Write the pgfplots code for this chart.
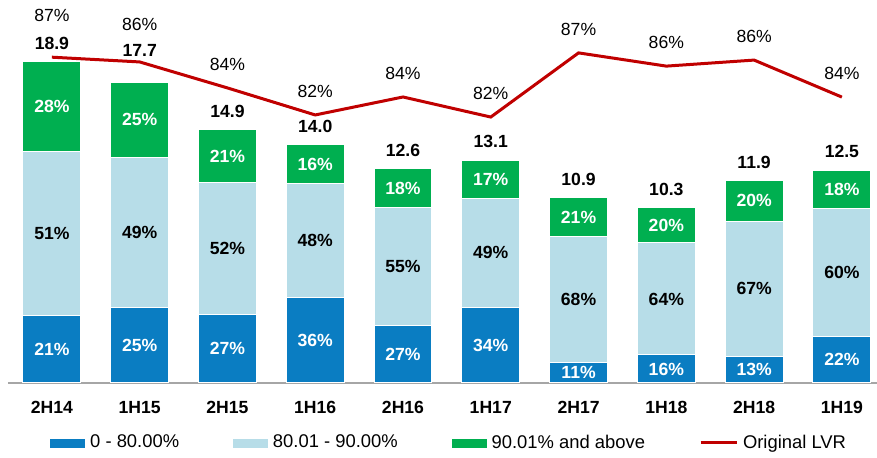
\documentclass[border=0pt]{standalone}
\usepackage{pgfplots}
\pgfplotsset{compat=1.18}
\usepackage{pgfplotstable}
\usepackage{fontspec}
\setmainfont{Liberation Sans}
\definecolor{cdark}{HTML}{0A7DC2}
\definecolor{clight}{HTML}{B7DDE8}
\definecolor{cgreen}{HTML}{00AF50}
\definecolor{cred}{HTML}{C00000}
\definecolor{caxis}{HTML}{A6A6A6}
\newcommand\fs{\fontsize{8.8}{10}\selectfont}
\pgfplotstableread{
x d dp l lp g gp t toff
0 3.969 21 9.639 51 5.292 28 18.9 6
1 4.425 25 8.850 49 4.425 25 17.7 12.5
2 4.023 27 7.748 52 3.129 21 14.9 6
3 5.040 36 6.720 48 2.240 16 14.0 6
4 3.402 27 6.930 55 2.268 18 12.6 6
5 4.454 34 6.419 49 2.227 17 13.1 6
6 1.199 11 7.412 68 2.289 21 10.9 6
7 1.648 16 6.592 64 2.060 20 10.3 6
8 1.547 13 7.973 67 2.380 20 11.9 6
9 2.750 22 7.500 60 2.250 18 12.5 6
}\bars
\pgfplotstableread{
x v lab off
0 86.98 87 17
1 86.57 86 15
2 84.33 84 8
3 82.00 82 8
4 83.55 84 8
5 81.82 82 8
6 87.35 87 8
7 86.21 86 8
8 86.73 86 8
9 83.54 84 8
}\lvr
\begin{document}
\begin{tikzpicture}
\begin{axis}[
  scale only axis, width=434.5pt, height=191.5pt,
  ybar stacked, bar width=0.66,
  xmin=-0.5, xmax=9.4, ymin=0, ymax=22.53,
  enlargelimits=false,
  axis x line=bottom, axis y line=none,
  x axis line style={caxis, line width=1pt, -},
  xtick={0,...,9},
  xticklabels={2H14,1H15,2H15,1H16,2H16,1H17,2H17,1H18,2H18,1H19},
  major tick length=0pt,
  xticklabel style={font=\fs\bfseries, inner sep=0pt, anchor=north, yshift=-9pt},
  ytick=\empty,
  clip=false,
  point meta=explicit symbolic,
]
\coordinate (BL) at (rel axis cs:0,0);
\coordinate (TR) at (rel axis cs:1,1);
\addplot[fill=cdark, draw=white, line width=0.5pt,
  nodes near coords=\pgfplotspointmeta\%,
  nodes near coords style={text=white, font=\fs\bfseries, inner sep=0pt, anchor=center}]
  table[x=x, y=d, meta=dp]{\bars};
\addplot[fill=clight, draw=white, line width=0.5pt,
  nodes near coords=\pgfplotspointmeta\%,
  nodes near coords style={text=black, font=\fs\bfseries, inner sep=0pt, anchor=center}]
  table[x=x, y=l, meta=lp]{\bars};
\addplot[fill=cgreen, draw=white, line width=0.5pt,
  nodes near coords=\pgfplotspointmeta\%,
  nodes near coords style={text=white, font=\fs\bfseries, inner sep=0pt, anchor=center}]
  table[x=x, y=g, meta=gp]{\bars};
\end{axis}
\begin{axis}[
  scale only axis, width=434.5pt, height=191.5pt,
  xmin=-0.5, xmax=9.4, ymin=0, ymax=22.53,
  enlargelimits=false,
  hide axis, clip=false,
]
\addplot[only marks, mark=none, nodes near coords=\pgfplotspointmeta, point meta=explicit symbolic,
  visualization depends on={\thisrow{toff}\as\toff},
  nodes near coords style={text=black, font=\fs\bfseries, inner sep=0pt, anchor=south, yshift=\toff pt}]
  table[x=x, y=t, meta=t]{\bars};
\end{axis}
\begin{axis}[
  scale only axis, width=434.5pt, height=191.5pt,
  xmin=-0.5, xmax=9.4, ymin=58.9, ymax=91.91,
  enlargelimits=false,
  hide axis, clip=false,
  legend columns=4,
  legend style={draw=none, fill=none, at={(0,0)}, anchor=west, xshift=21pt, yshift=-30pt,
    inner sep=0pt, font=\fontsize{9.2}{11}\selectfont,
    nodes={inner sep=0pt},
    /tikz/every odd column/.append style={column sep=2.5pt},
    /tikz/every even column/.append style={column sep=27pt}},
]
\addlegendimage{legend image code/.code={\fill[cdark] (0pt,-2pt) rectangle (17pt,2pt);}}
\addlegendentry{0 - 80.00\%}
\addlegendimage{legend image code/.code={\fill[clight] (0pt,-2pt) rectangle (17pt,2pt);}}
\addlegendentry{80.01 - 90.00\%}
\addlegendimage{legend image code/.code={\fill[cgreen] (0pt,-2pt) rectangle (17pt,2pt);}}
\addlegendentry{90.01\% and above}
\addplot[cred, line width=1.5pt, mark=none,
  legend image code/.code={\draw[cred, line width=1.5pt] (0pt,0pt) -- (18pt,0pt);},
  nodes near coords=\pgfplotspointmeta\%, point meta=explicit symbolic,
  visualization depends on={\thisrow{off}\as\off},
  nodes near coords style={text=black, font=\fs, inner sep=0pt, anchor=south, yshift=\off pt}]
  table[x=x, y=v, meta=lab]{\lvr};
\addlegendentry{Original LVR}
\end{axis}
\pgfresetboundingbox
\path ([xshift=-4pt, yshift=-37.5pt]BL) rectangle (TR);
\end{tikzpicture}
\end{document}
